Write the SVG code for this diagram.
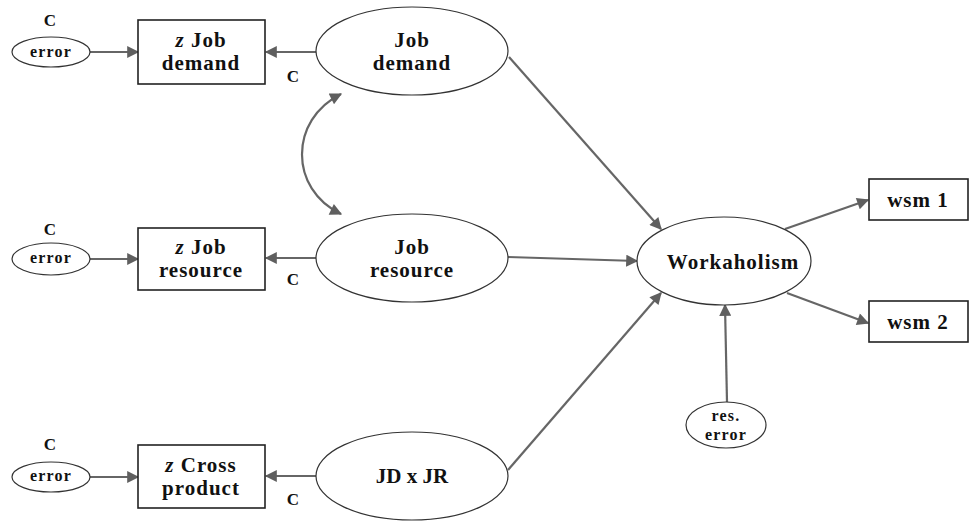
<svg xmlns="http://www.w3.org/2000/svg" width="970" height="523" viewBox="0 0 970 523">
<defs>
<marker id="ah" viewBox="0 0 10 10" refX="9" refY="5" markerWidth="15" markerHeight="12" markerUnits="userSpaceOnUse" orient="auto-start-reverse">
<path d="M0,0 L10,5 L0,10 z" fill="#5f5f5f"/>
</marker>
<style>
.ell{fill:#fff;stroke:#333;stroke-width:1.2}
.box{fill:#fff;stroke:#222;stroke-width:1.6}
.con{fill:none;stroke:#666;stroke-width:2.2;marker-end:url(#ah)}
.t{font-family:"Liberation Serif","Times New Roman",serif;font-weight:bold;fill:#111;text-anchor:middle;dominant-baseline:central}
.big{font-size:21px;letter-spacing:1px}
.sm{font-size:16px;letter-spacing:1.2px}
.c{font-size:17px}
</style>
</defs>
<rect width="970" height="523" fill="#fff"/>
<g id="connectors">
<line class="con" x1="90" y1="52" x2="138" y2="52"/>
<line class="con" x1="316" y1="52" x2="266" y2="52"/>
<line class="con" x1="90" y1="259" x2="138" y2="259"/>
<line class="con" x1="316" y1="258" x2="266" y2="258"/>
<line class="con" x1="90" y1="477" x2="138" y2="477"/>
<line class="con" x1="316" y1="476" x2="266" y2="476"/>
<path class="con" d="M341,214 C289,189 289,120 341,94" style="marker-start:url(#ah)"/>
<line class="con" x1="509" y1="57" x2="661" y2="229"/>
<line class="con" x1="508" y1="257" x2="637" y2="261"/>
<line class="con" x1="508" y1="470" x2="661" y2="293"/>
<line class="con" x1="727" y1="402" x2="725" y2="305"/>
<line class="con" x1="785" y1="229" x2="868" y2="200"/>
<line class="con" x1="787" y1="293" x2="868" y2="323"/>
</g>
<g id="error1"><ellipse class="ell" cx="51" cy="52" rx="39" ry="15"/><text class="t sm" x="51" y="51">error</text></g>
<g id="error2"><ellipse class="ell" cx="51" cy="259" rx="39" ry="16"/><text class="t sm" x="51" y="257">error</text></g>
<g id="error3"><ellipse class="ell" cx="51" cy="477" rx="39" ry="15"/><text class="t sm" x="51" y="475">error</text></g>
<g id="labels">
<text class="t c" x="50" y="20">C</text>
<text class="t c" x="50" y="229">C</text>
<text class="t c" x="50" y="444">C</text>
<text class="t c" x="293" y="76">C</text>
<text class="t c" x="293" y="279">C</text>
<text class="t c" x="293" y="499">C</text>
</g>
<g id="zJobDemand"><rect class="box" x="138" y="20" width="127" height="64"/><text class="t big" x="201" y="40"><tspan font-style="italic">z</tspan> Job</text><text class="t big" x="201" y="63">demand</text></g>
<g id="zJobResource"><rect class="box" x="138" y="228" width="127" height="62"/><text class="t big" x="201" y="247"><tspan font-style="italic">z</tspan> Job</text><text class="t big" x="201" y="270">resource</text></g>
<g id="zCrossProduct"><rect class="box" x="138" y="445" width="127" height="63"/><text class="t big" x="201" y="465"><tspan font-style="italic">z</tspan> Cross</text><text class="t big" x="201" y="488">product</text></g>
<g id="jobDemand"><ellipse class="ell" cx="412" cy="51" rx="96" ry="44"/><text class="t big" x="412" y="40">Job</text><text class="t big" x="412" y="63">demand</text></g>
<g id="jobResource"><ellipse class="ell" cx="412" cy="258" rx="96" ry="44"/><text class="t big" x="412" y="247">Job</text><text class="t big" x="412" y="270">resource</text></g>
<g id="jdxjr"><ellipse class="ell" cx="412" cy="476" rx="96" ry="44"/><text class="t big" x="412" y="476" style="letter-spacing:0">JD x JR</text></g>
<g id="workaholism"><ellipse class="ell" cx="724" cy="261" rx="87" ry="44"/><text class="t big" x="733" y="262">Workaholism</text></g>
<g id="resError"><ellipse class="ell" cx="726" cy="425" rx="40" ry="23"/><text class="t sm" x="726" y="415">res.</text><text class="t sm" x="726" y="434">error</text></g>
<g id="wsm1"><rect class="box" x="869" y="179" width="99" height="41"/><text class="t big" x="918" y="200">wsm 1</text></g>
<g id="wsm2"><rect class="box" x="869" y="301" width="99" height="41"/><text class="t big" x="918" y="322">wsm 2</text></g>
</svg>
